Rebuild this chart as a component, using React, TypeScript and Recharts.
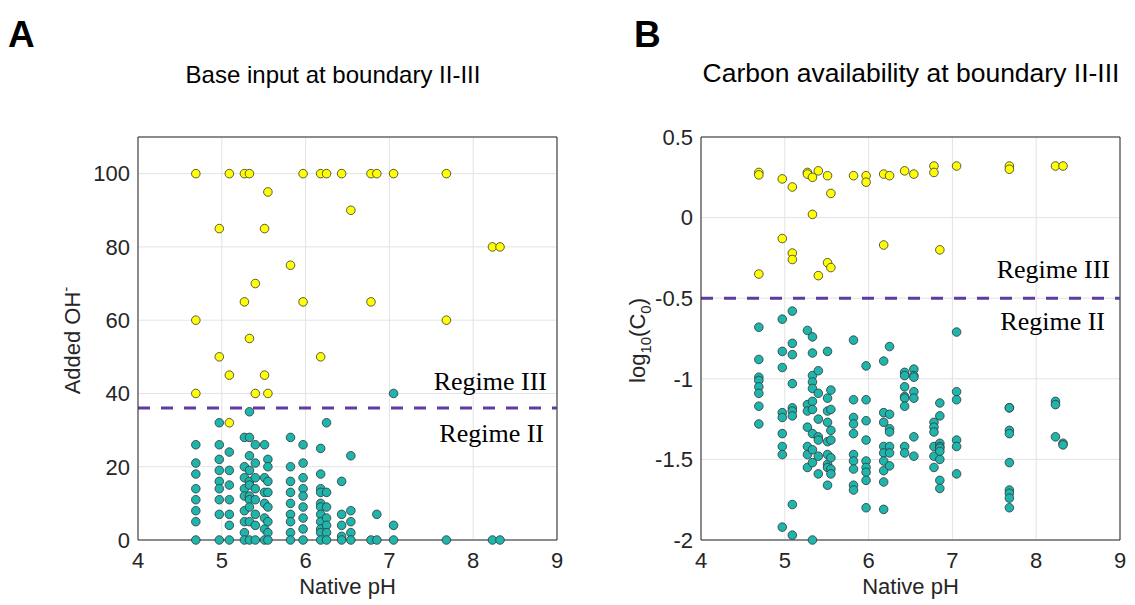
import {
  CartesianGrid,
  Label,
  ReferenceLine,
  Scatter,
  ScatterChart,
  XAxis,
  YAxis,
} from "recharts";

const phLevels = [
  4.69, 4.97, 5.09, 5.27, 5.33, 5.4, 5.51, 5.55, 5.82, 5.97, 6.18, 6.25, 6.43,
  6.54, 6.78, 6.85, 7.05, 7.68, 8.23, 8.32,
];

// panel A: added OH- at the II-III boundary, one list per pH level
const baseRegime3 = [
  [100, 60, 40], [85, 50], [100, 45, 32], [100, 65], [100, 55], [70, 40],
  [85, 45], [95, 40], [75], [100, 65], [100, 50], [100], [100], [90],
  [100, 65], [100], [100], [100, 60], [80], [80],
];
const baseRegime2 = [
  [26, 21, 18, 14, 11, 8, 5, 0],
  [32, 26, 22, 19, 16, 14, 11, 7, 0],
  [24, 19, 15, 11, 7, 4, 0],
  [28, 20, 17, 14, 12, 8, 5, 2, 0],
  [35, 28, 23, 19, 16, 15, 12, 11, 9, 5, 0],
  [26, 21, 17, 14, 11, 7, 4, 0],
  [26, 17, 13, 10, 6, 3, 0],
  [22, 20, 16, 13, 9, 5, 2, 0],
  [28, 20, 16, 13, 10, 7, 5, 2, 0],
  [26, 21, 17, 14, 12, 9, 6, 3, 0],
  [25, 18, 14, 13, 10, 9, 7, 5, 3, 2, 0],
  [32, 13, 9, 6, 4, 2, 0],
  [16, 7, 4, 1, 0],
  [23, 8, 5, 2, 0],
  [0],
  [7, 0],
  [40, 4, 0],
  [0],
  [0],
  [0],
];

// panel B: log10(C0) at the II-III boundary
const carbonRegime3 = [
  [0.28, 0.265, -0.35], [0.24, -0.13], [0.19, -0.22, -0.26], [0.28, 0.27],
  [0.25, 0.02], [0.29, -0.36], [0.26, -0.28], [0.15, -0.31], [0.26],
  [0.26, 0.22], [0.27, -0.17], [0.26], [0.29], [0.27], [0.32, 0.28],
  [-0.2], [0.32], [0.32, 0.3], [0.32], [0.32],
];
const carbonRegime2 = [
  [-0.68, -0.88, -0.99, -1.01, -1.05, -1.09, -1.17, -1.28],
  [-0.63, -0.83, -0.93, -1.21, -1.24, -1.34, -1.42, -1.47, -1.92],
  [-0.58, -0.78, -0.85, -1.03, -1.18, -1.2, -1.23, -1.78, -1.97],
  [-0.7, -1.16, -1.2, -1.3, -1.42, -1.47, -1.55],
  [-0.74, -0.84, -0.98, -1.02, -1.06, -1.14, -1.19, -1.34, -1.44, -1.52, -2.0],
  [-0.95, -1.09, -1.25, -1.36, -1.38, -1.48, -1.59],
  [-0.83, -1.12, -1.2, -1.27, -1.39, -1.47, -1.53, -1.55, -1.66],
  [-1.07, -1.19, -1.32, -1.38, -1.49, -1.56, -1.59],
  [-0.76, -1.13, -1.24, -1.28, -1.34, -1.47, -1.51, -1.56, -1.66, -1.69],
  [-0.92, -1.13, -1.26, -1.38, -1.51, -1.55, -1.58, -1.63, -1.8],
  [-0.89, -1.21, -1.27, -1.42, -1.46, -1.51, -1.57, -1.64, -1.81],
  [-0.8, -1.22, -1.31, -1.33, -1.42, -1.46, -1.54],
  [-0.96, -0.98, -1.05, -1.11, -1.12, -1.17, -1.42, -1.46],
  [-0.94, -0.98, -0.99, -1.08, -1.12, -1.36, -1.48],
  [-1.27, -1.3, -1.33, -1.42, -1.48, -1.55],
  [-1.15, -1.23, -1.4, -1.42, -1.43, -1.45, -1.5, -1.63, -1.68],
  [-0.71, -1.08, -1.13, -1.38, -1.42, -1.59],
  [-1.18, -1.18, -1.32, -1.34, -1.52, -1.69, -1.71, -1.74, -1.8],
  [-1.14, -1.16, -1.36],
  [-1.4, -1.41],
];

const phTicks = [4, 5, 6, 7, 8, 9];
const baseTicks = [0, 20, 40, 60, 80, 100];
const carbonTicks = [-2, -1.5, -1, -0.5, 0, 0.5];

const SANS = "'Liberation Sans', Arial, Helvetica, sans-serif";
const SERIF = "'Liberation Serif', 'Times New Roman', serif";
const INK = "#262626";
const YELLOW = "#ffff00";
const TEAL = "#1db5ac";
const BOUNDARY = "#5e3c9f";

function toPoints(lists: number[][]) {
  return lists.flatMap((vals, i) => vals.map((v) => ({ ph: phLevels[i], v })));
}

function Dot(props: any) {
  const { cx, cy, fill } = props;
  if (cx == null || cy == null) return null;
  return (
    <circle cx={cx} cy={cy} r={4.3} fill={fill} stroke="#333" strokeWidth={0.8} />
  );
}

function regimeLabels(above: number, below: number, shift: number) {
  return (props: any) => {
    const { x, y, width } = props.viewBox;
    const right = x + width - 10;
    return (
      <g fontFamily={SERIF} fontSize={26} fill="#000" textAnchor="end">
        <text x={right} y={y + above}>Regime III</text>
        <text x={right - shift} y={y + below}>Regime II</text>
      </g>
    );
  };
}

interface PanelProps {
  left: number;
  yWidth: number;
  right: number;
  domain: [number, number];
  ticks: number[];
  top: number;
  boundary: number;
  r3: number[][];
  r2: number[][];
  yLabel: React.ReactNode;
  above: number;
  below: number;
  shift: number;
}

function Panel(p: PanelProps) {
  return (
    <ScatterChart
      width={570}
      height={605}
      margin={{ top: 137, right: p.right, bottom: 0, left: 0 }}
      style={{ position: "absolute", left: p.left, top: 0 }}
    >
      <CartesianGrid stroke="#e3e3e3" />
      <XAxis
        type="number"
        dataKey="ph"
        domain={[4, 9]}
        ticks={phTicks}
        interval={0}
        height={65}
        tickLine={false}
        tickMargin={6}
        axisLine={{ stroke: INK }}
        tick={{ fontSize: 22, fill: INK, fontFamily: SANS }}
      >
        <Label
          value="Native pH"
          position="insideBottom"
          offset={11}
          style={{ fontSize: 22, fill: INK, fontFamily: SANS }}
        />
      </XAxis>
      <YAxis
        type="number"
        dataKey="v"
        domain={p.domain}
        ticks={p.ticks}
        interval={0}
        width={p.yWidth}
        tickLine={false}
        axisLine={{ stroke: INK }}
        tick={{ fontSize: 22, fill: INK, fontFamily: SANS }}
      >
        <Label
          content={(lp: any) => {
            const vb = lp.viewBox;
            return (
              <text
                transform={`translate(${vb.x + 80},${vb.y + vb.height / 2 + 2}) rotate(-90)`}
                textAnchor="middle"
                fontSize={22}
                fill={INK}
                fontFamily={SANS}
              >
                {p.yLabel}
              </text>
            );
          }}
        />
      </YAxis>
      <ReferenceLine x={9} stroke={INK} />
      <ReferenceLine y={p.top} stroke={INK} />
      <ReferenceLine
        y={p.boundary}
        stroke={BOUNDARY}
        strokeWidth={3}
        strokeDasharray="12 11"
        label={regimeLabels(p.above, p.below, p.shift)}
      />
      <Scatter data={toPoints(p.r3)} fill={YELLOW} shape={Dot} isAnimationActive={false} />
      <Scatter data={toPoints(p.r2)} fill={TEAL} shape={Dot} isAnimationActive={false} />
    </ScatterChart>
  );
}

export default function App() {
  return (
    <div
      style={{
        position: "absolute",
        left: 0,
        top: 0,
        width: 1135,
        height: 605,
        background: "#fff",
        overflow: "hidden",
      }}
    >
      <Panel
        left={0}
        yWidth={138}
        right={13}
        domain={[0, 110]}
        ticks={baseTicks}
        top={110}
        boundary={36}
        r3={baseRegime3}
        r2={baseRegime2}
        above={-18}
        below={34}
        shift={3}
        yLabel={
          <>
            Added OH
            <tspan dy={-9} fontSize={15}>-</tspan>
          </>
        }
      />
      <Panel
        left={565}
        yWidth={136}
        right={15}
        domain={[-2, 0.5]}
        ticks={carbonTicks}
        top={0.5}
        boundary={-0.5}
        r3={carbonRegime3}
        r2={carbonRegime2}
        above={-20}
        below={32}
        shift={5}
        yLabel={
          <>
            log
            <tspan dy={6} fontSize={15}>10</tspan>
            <tspan dy={-6}>(C</tspan>
            <tspan dy={6} fontSize={15}>0</tspan>
            <tspan dy={-6}>)</tspan>
          </>
        }
      />
      <svg
        width={1135}
        height={130}
        style={{ position: "absolute", left: 0, top: 0, pointerEvents: "none" }}
      >
        <g fontFamily={SANS} fill="#000">
          <text x={8} y={47} fontSize={37} fontWeight="bold">A</text>
          <text x={634} y={47} fontSize={37} fontWeight="bold">B</text>
          <text x={333} y={83} fontSize={24} textAnchor="middle">
            Base input at boundary II-III
          </text>
          <text x={911} y={82} fontSize={26.5} textAnchor="middle">
            Carbon availability at boundary II-III
          </text>
        </g>
      </svg>
    </div>
  );
}
